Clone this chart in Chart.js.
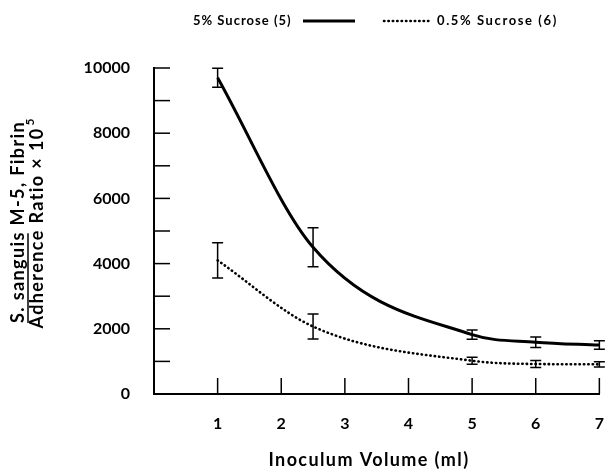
<!DOCTYPE html>
<html>
<head>
<meta charset="utf-8">
<script src="https://cdn.jsdelivr.net/npm/chart.js@4"></script>
<style>
  html, body { margin: 0; padding: 0; background: #fff; }
</style>
</head>
<body>
<canvas id="chart" width="616" height="469"></canvas>
<script>
// Inoculum volume (ml) at which adherence was measured
const inoculumVolumes = [1, 2.5, 5, 6, 7];

// 5% sucrose (n = 5): mean and error
const sucrose5 = [9700, 4500, 1820, 1590, 1500];
const sucrose5Err = [290, 600, 140, 160, 130];

// 0.5% sucrose (n = 6): mean and error
const sucrose05 = [4100, 2070, 1020, 920, 910];
const sucrose05Err = [540, 385, 110, 110, 80];

const xTicks = [1, 2, 3, 4, 5, 6, 7];
const yLabelStep = 2000;

const FONT = 'Lato, "DejaVu Sans", sans-serif';

function toPoints(xs, ys) {
    return xs.map((x, i) => ({ x: x, y: ys[i] }));
}

// Error bars, inward tick marks, legend and axis titles
const decorations = {
    id: 'decorations',
    afterDatasetsDraw(chart) {
        const ctx = chart.ctx;
        const yScale = chart.scales.y;
        ctx.save();
        ctx.strokeStyle = '#000';
        ctx.lineWidth = 1.5;
        chart.data.datasets.forEach((ds, di) => {
            const meta = chart.getDatasetMeta(di);
            meta.data.forEach((pt, i) => {
                const v = ds.data[i].y;
                const e = ds.errors[i];
                const top = yScale.getPixelForValue(v + e);
                const bot = yScale.getPixelForValue(v - e);
                const x = pt.x;
                ctx.beginPath();
                ctx.moveTo(x, top);
                ctx.lineTo(x, bot);
                ctx.moveTo(x - 5.5, top);
                ctx.lineTo(x + 5.5, top);
                ctx.moveTo(x - 5.5, bot);
                ctx.lineTo(x + 5.5, bot);
                ctx.stroke();
            });
        });
        ctx.restore();
    },
    afterDraw(chart) {
        const ctx = chart.ctx;
        const area = chart.chartArea;
        const xScale = chart.scales.x;
        const yScale = chart.scales.y;
        ctx.save();
        ctx.strokeStyle = '#000';
        ctx.fillStyle = '#000';
        ctx.lineWidth = 1.5;

        // tick marks pointing into the plot
        yScale.ticks.forEach(t => {
            const y = yScale.getPixelForValue(t.value);
            ctx.beginPath();
            ctx.moveTo(area.left, y);
            ctx.lineTo(area.left + 16, y);
            ctx.stroke();
        });
        xTicks.forEach(v => {
            const x = xScale.getPixelForValue(v);
            ctx.beginPath();
            ctx.moveTo(x, area.bottom);
            ctx.lineTo(x, area.bottom - 16);
            ctx.stroke();
        });

        // legend
        const ds = chart.data.datasets;
        ctx.font = 'bold 13px ' + FONT;
        ctx.letterSpacing = '1px';
        ctx.textBaseline = 'middle';
        ctx.textAlign = 'left';
        ctx.fillText(ds[0].label, 193, 21);
        ctx.lineWidth = ds[0].borderWidth;
        ctx.beginPath();
        ctx.moveTo(303, 21);
        ctx.lineTo(355, 21);
        ctx.stroke();

        ctx.lineWidth = ds[1].borderWidth;
        ctx.lineCap = ds[1].borderCapStyle;
        ctx.setLineDash(ds[1].borderDash);
        ctx.beginPath();
        ctx.moveTo(384, 21);
        ctx.lineTo(431, 21);
        ctx.stroke();
        ctx.setLineDash([]);
        ctx.lineCap = 'butt';
        ctx.letterSpacing = '1.6px';
        ctx.fillText(ds[1].label, 437, 21);

        // x axis title
        ctx.font = 'bold 18px ' + FONT;
        ctx.textAlign = 'center';
        ctx.letterSpacing = '1.4px';
        ctx.fillText('Inoculum Volume (ml)', 369, 460);

        // y axis title, two lines, rotated
        ctx.translate(0, 222);
        ctx.rotate(-Math.PI / 2);
        ctx.font = 'bold 18px ' + FONT;
        ctx.letterSpacing = '1.4px';
        ctx.textAlign = 'center';
        const line1 = 'S. sanguis M-5, Fibrin';
        const line2 = 'Adherence Ratio \u00d7 10';
        ctx.fillText(line1, 0, 18);
        const w1 = ctx.measureText(line1).width;
        const wPart = ctx.measureText('S. sanguis').width;
        ctx.lineWidth = 1.5;
        ctx.beginPath();
        ctx.moveTo(-w1 / 2, 28);
        ctx.lineTo(-w1 / 2 + wPart - 2, 28);
        ctx.stroke();

        const w2 = ctx.measureText(line2).width;
        ctx.fillText(line2, -6, 37);
        ctx.font = 'bold 12px ' + FONT;
        ctx.textAlign = 'left';
        ctx.fillText('5', -6 + w2 / 2 + 2, 30);
        ctx.restore();
    }
};

new Chart(document.getElementById('chart'), {
    type: 'line',
    data: {
        datasets: [
            {
                label: '5% Sucrose (5)',
                data: toPoints(inoculumVolumes, sucrose5),
                errors: sucrose5Err,
                borderColor: '#000',
                borderWidth: 3,
                pointRadius: 0,
                cubicInterpolationMode: 'monotone'
            },
            {
                label: '0.5% Sucrose (6)',
                data: toPoints(inoculumVolumes, sucrose05),
                errors: sucrose05Err,
                borderColor: '#000',
                borderWidth: 2.6,
                borderDash: [0.4, 4],
                borderCapStyle: 'round',
                pointRadius: 0,
                cubicInterpolationMode: 'monotone'
            }
        ]
    },
    options: {
        responsive: false,
        animation: false,
        layout: { padding: { top: 68, right: 5, left: 0, bottom: 0 } },
        plugins: {
            legend: { display: false },
            tooltip: { enabled: false }
        },
        scales: {
            x: {
                type: 'linear',
                min: 0,
                max: 7,
                afterFit: s => { s.height = 75; },
                grid: { display: false },
                border: { display: true, color: '#000', width: 2 },
                ticks: {
                    stepSize: 1,
                    padding: 12,
                    color: '#000',
                    font: { family: FONT, size: 16, weight: 'bold' },
                    callback: v => (v === 0 ? '' : v)
                }
            },
            y: {
                min: 0,
                max: 10000,
                afterFit: s => { s.width = 154; },
                grid: { display: false },
                border: { display: true, color: '#000', width: 2 },
                ticks: {
                    stepSize: 1000,
                    padding: 16,
                    color: '#000',
                    font: { family: FONT, size: 16, weight: 'bold' },
                    callback: v => (v % yLabelStep === 0 ? v : '')
                }
            }
        }
    },
    plugins: [decorations]
});
</script>
</body>
</html>
